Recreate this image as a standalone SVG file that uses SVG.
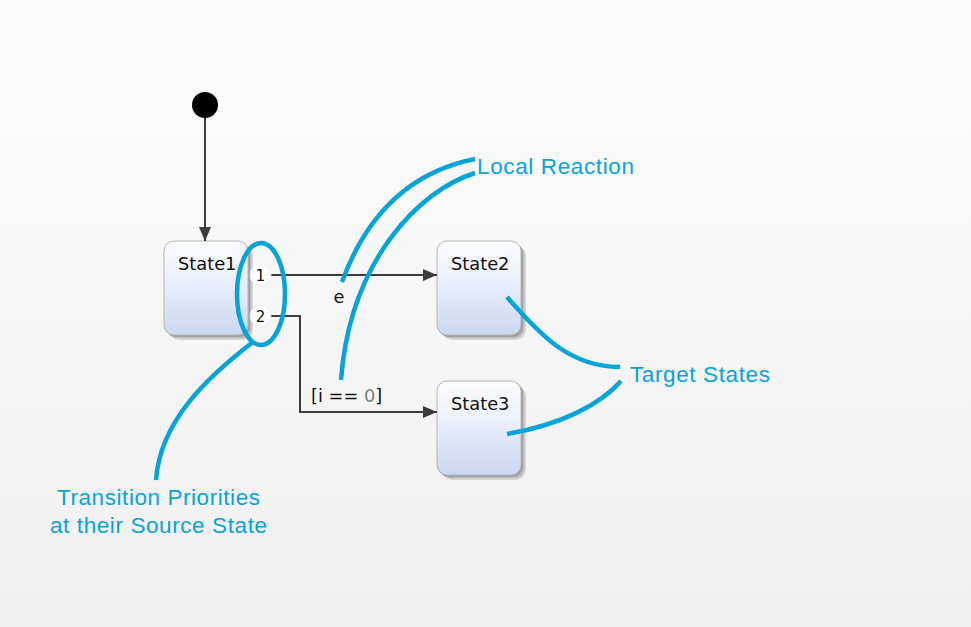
<svg xmlns="http://www.w3.org/2000/svg" width="971" height="627" viewBox="0 0 971 627">
<defs>
<linearGradient id="bg" x1="0" y1="0" x2="0" y2="1">
<stop offset="0" stop-color="#fcfcfc"/>
<stop offset="1" stop-color="#f0f0f0"/>
</linearGradient>
<linearGradient id="st" x1="0" y1="0" x2="0" y2="1">
<stop offset="0" stop-color="#fbfcff"/>
<stop offset="0.35" stop-color="#eef2fb"/>
<stop offset="1" stop-color="#c9d8f1"/>
</linearGradient>
<marker id="arr" viewBox="0 0 14 12" refX="14" refY="6" markerWidth="14" markerHeight="12" markerUnits="userSpaceOnUse" orient="auto">
<path d="M0,0 L14,6 L0,12 Z" fill="#3c3c3c"/>
</marker>
</defs>
<style>
.sh1{fill:#a0a0a0}
.sh2{fill:#bdbdbd}
.sh3{fill:#d9d9d9}
.box{fill:url(#st);stroke:#b4b4b4;stroke-width:1}
.lbl{font-family:"DejaVu Sans",Verdana,sans-serif;font-size:17.8px;fill:#111}
.num{font-family:"DejaVu Sans",Verdana,sans-serif;font-size:15px;fill:#111;text-anchor:middle}
.conn{fill:none;stroke:#3c3c3c;stroke-width:2}
.blue{fill:none;stroke:#04a3d8;stroke-width:4.5;stroke-linecap:butt}
.note{font-family:"Liberation Sans",Arial,Helvetica,sans-serif;font-size:22.5px;fill:#0aa3d8}
.prio{fill:#fff;stroke:#ececec;stroke-width:0.8}
</style>
<rect x="0" y="0" width="971" height="627" fill="url(#bg)"/>

<g id="initial">
<circle cx="205" cy="105" r="13" fill="#000"/>
</g>

<g id="State1">
<rect class="sh3" x="169" y="246" width="84" height="94" rx="10"/>
<rect class="sh2" x="167.5" y="244.5" width="84" height="94" rx="10"/>
<rect class="sh1" x="166" y="243" width="84" height="94" rx="10"/>
<rect class="box" x="164" y="241" width="84" height="94" rx="10"/>
<text class="lbl" x="178" y="270">State1</text>
</g>

<g id="State2">
<rect class="sh3" x="442" y="246" width="84" height="94" rx="10"/>
<rect class="sh2" x="440.5" y="244.5" width="84" height="94" rx="10"/>
<rect class="sh1" x="439" y="243" width="84" height="94" rx="10"/>
<rect class="box" x="437" y="241" width="84" height="94" rx="10"/>
<text class="lbl" x="451" y="270">State2</text>
</g>

<g id="State3">
<rect class="sh3" x="442" y="386" width="84" height="94" rx="10"/>
<rect class="sh2" x="440.5" y="384.5" width="84" height="94" rx="10"/>
<rect class="sh1" x="439" y="383" width="84" height="94" rx="10"/>
<rect class="box" x="437" y="381" width="84" height="94" rx="10"/>
<text class="lbl" x="451" y="410">State3</text>
</g>

<g id="connectors">
<path class="conn" d="M270,275 L437,275" marker-end="url(#arr)"/>
<path class="conn" d="M205,118 L205,241" marker-end="url(#arr)"/>
<path class="conn" d="M270,316 L300,316 L300,412 L437,412" marker-end="url(#arr)"/>
<text class="lbl" x="339" y="303" text-anchor="middle">e</text>
<text class="lbl" x="311" y="402">[i == <tspan fill="#808080">0</tspan>]</text>
</g>

<g id="priorities">
<circle class="prio" cx="260.5" cy="275" r="10.5"/>
<text class="num" x="260.5" y="280.5">1</text>
<circle class="prio" cx="260.5" cy="316" r="10.5"/>
<text class="num" x="260.5" y="321.5">2</text>
</g>

<g id="annotations">
<ellipse class="blue" cx="261" cy="294" rx="24" ry="51"/>
<path class="blue" d="M253,342 C210,375 160,420 156,480"/>
<path class="blue" d="M475,159 C420,170 370,205 342,282"/>
<path class="blue" d="M475,173 C420,190 350,260 341,380"/>
<path class="blue" d="M507,297 C540,335 570,367 620,367"/>
<path class="blue" d="M507,434 C560,425 600,405 621,381"/>
<text class="note" x="477" y="174" textLength="157" lengthAdjust="spacing">Local Reaction</text>
<text class="note" x="630" y="382" textLength="140" lengthAdjust="spacing">Target States</text>
<text class="note" x="57" y="505" textLength="203" lengthAdjust="spacing">Transition Priorities</text>
<text class="note" x="50" y="533" textLength="217" lengthAdjust="spacing">at their Source State</text>
</g>
</svg>
